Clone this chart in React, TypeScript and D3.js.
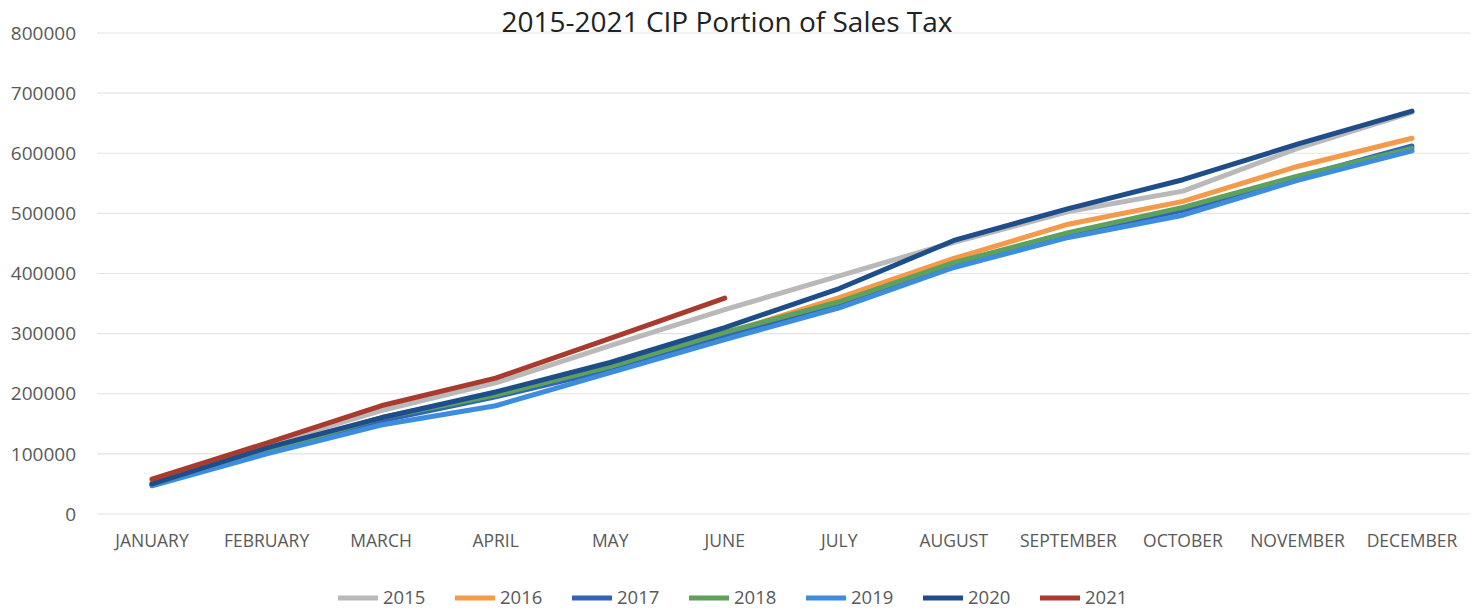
import React from "react";
import * as d3 from "d3";

const months = ["JANUARY","FEBRUARY","MARCH","APRIL","MAY","JUNE","JULY","AUGUST","SEPTEMBER","OCTOBER","NOVEMBER","DECEMBER"];
const yTicks = [0,100000,200000,300000,400000,500000,600000,700000,800000];
const years = ["2015","2016","2017","2018","2019","2020","2021"];
const colors = ["#B9B9B9","#F5994A","#2F64B9","#5DA15A","#3C8DDE","#1E4E8A","#A83B2E"];

const v2015 = [55000,115000,172000,218000,280000,340000,396000,452000,503000,537000,608000,668000];
const v2016 = [50000,108000,160000,200000,245000,300000,360000,425000,482000,520000,578000,625000];
const v2017 = [48000,103000,155000,195000,240000,295000,350000,415000,465000,505000,560000,612000];
const v2018 = [50000,105000,160000,198000,245000,302000,353000,418000,468000,510000,562000,608000];
const v2019 = [47000,100000,148000,180000,235000,290000,343000,410000,460000,497000,555000,604000];
const v2020 = [50000,110000,160000,203000,252000,310000,375000,455000,508000,556000,615000,670000];
const v2021 = [58000,118000,180000,226000,292000,359000];

const seriesValues = [v2015,v2016,v2017,v2018,v2019,v2020,v2021];

export default function App() {
  const W = 1484, H = 611;
  const x = d3.scalePoint<string>().domain(months).range([152, 1412]);
  const y = d3.scaleLinear().domain([0, 800000]).range([514, 33]);
  const line = d3.line<number>().x((_, i) => x(months[i]) as number).y(d => y(d));
  const font = "'Open Sans', 'Liberation Sans', sans-serif";
  const legendX = d3.scalePoint<string>().domain(years).range([338, 1040]);

  return (
    <svg width={W} height={H} style={{ position: "absolute", left: 0, top: 0, background: "#fff" }} fontFamily={font}>
      <rect width={W} height={H} fill="#fff" />
      <text x={727} y={32} textAnchor="middle" fontSize={28} fill="#222">2015-2021 CIP Portion of Sales Tax</text>
      {yTicks.map(t => (
        <g key={t}>
          <line x1={97} x2={1470} y1={y(t)} y2={y(t)} stroke="#E4E4E4" strokeWidth={1.2} />
          <text x={76} y={y(t)} dy="0.35em" textAnchor="end" fontSize={19} fill="#595959">{t}</text>
        </g>
      ))}
      {months.map(m => (
        <text key={m} x={x(m)} y={547} textAnchor="middle" fontSize={17.5} fill="#595959">{m}</text>
      ))}
      {seriesValues.map((vals, i) => (
        <path key={years[i]} d={line(vals) || ""} fill="none" stroke={colors[i]} strokeWidth={5} strokeLinejoin="round" strokeLinecap="round" />
      ))}
      {years.map((yr, i) => (
        <g key={yr} transform={`translate(${legendX(yr)},598)`}>
          <line x1={0} x2={40} y1={0} y2={0} stroke={colors[i]} strokeWidth={5} />
          <text x={45} y={0} dy="0.35em" fontSize={18.5} fill="#595959">{yr}</text>
        </g>
      ))}
    </svg>
  );
}
